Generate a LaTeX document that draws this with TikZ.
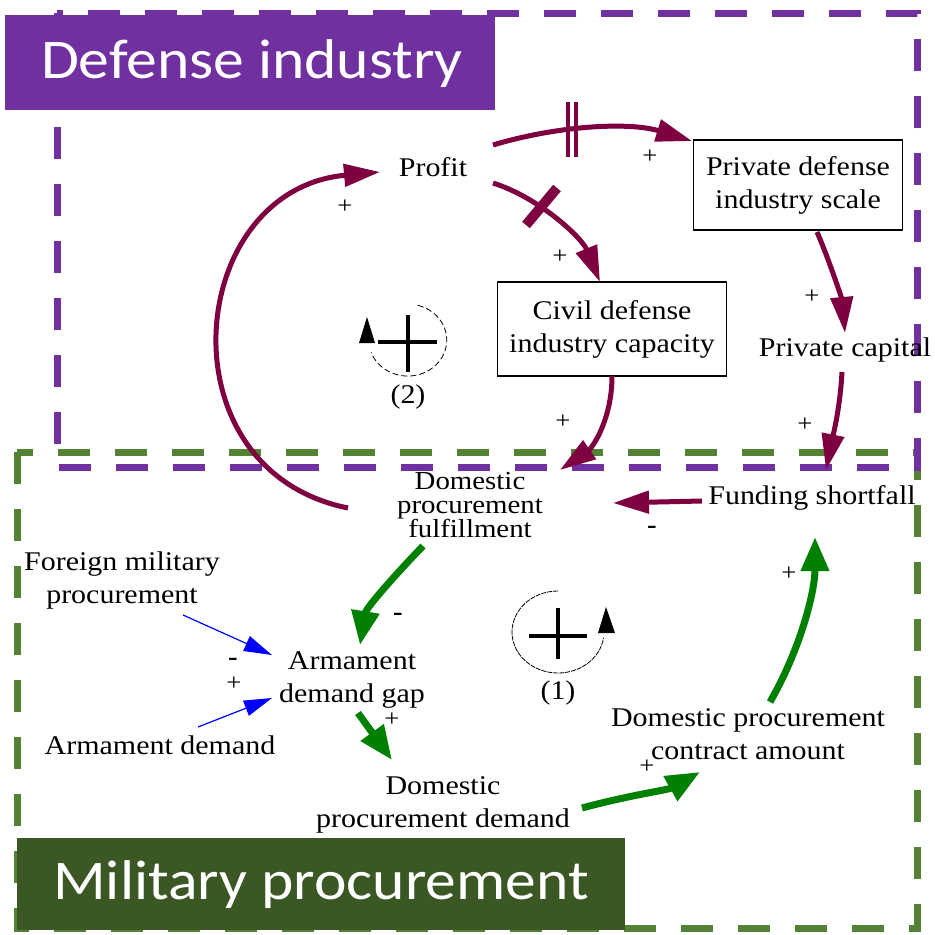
\documentclass[tikz,border=0pt]{standalone}
\usepackage{fontspec}
\setmainfont{Liberation Serif}
\newfontfamily\serfont{Liberation Serif}[FakeStretch=1.11]
\newfontfamily\calfontw{Carlito}[FakeStretch=1.1]
\usetikzlibrary{arrows.meta,calc}
\definecolor{dpurple}{HTML}{7030A0}
\definecolor{dgreen}{HTML}{548235}
\definecolor{tgreen}{HTML}{3A5724}
\definecolor{maroonc}{HTML}{7F0040}
\definecolor{agreen}{HTML}{008000}
\begin{document}
\begin{tikzpicture}[x=1pt,y=-1pt,
  var/.style={font=\serfont\fontsize{27}{33}\selectfont, align=center, inner sep=0pt},
  boxvar/.style={var, draw=black, line width=1.1pt},
  sign/.style={font=\serfont\fontsize{24}{24}\selectfont, inner sep=0pt},
  minus/.style={font=\serfont\bfseries\fontsize{26}{26}\selectfont, inner sep=0pt},
  mar/.style={draw=maroonc, line width=5pt, -{Triangle[length=36pt,width=22pt]}},
  grn/.style={draw=agreen, line width=7pt, -{Triangle[length=34pt,width=27pt]}},
  blu/.style={draw=blue, line width=1.2pt, -{Triangle[length=28pt,width=16pt]}},
  regionbox/.style={line width=7pt, dash pattern=on 32pt off 25pt},
  looparc/.style={draw=black, line width=0.8pt},
  crossline/.style={draw=black, line width=3.5pt},
  titlebox/.style={font=\calfontw\fontsize{56}{56}\selectfont, text=white, inner sep=0pt}
]
\useasboundingbox (0,0) rectangle (935,935);
\fill[white] (0,0) rectangle (935,935);
% region boxes
\draw[regionbox, draw=dgreen] (17,452) rectangle (917,928);
\draw[regionbox, draw=dpurple] (57,13) rectangle (917,467);
% titles
\fill[dpurple] (5,15) rectangle (495,110);
\node[titlebox] (tdef) at (252,64) {Defense industry};
\fill[tgreen] (17,838) rectangle (625,930);
\node[titlebox] (tmil) at (321,885) {Military procurement};

% variables
\node[var] (profit) at (433,167) {Profit};
\node[boxvar, minimum width=209, minimum height=90] (pdis) at (798,185) {Private defense\\industry scale};
\node[boxvar, minimum width=229, minimum height=94] (cdic) at (612,329) {Civil defense\\industry capacity};
\node[var] (pcap) at (845,350) {Private capital};
\node[var, font=\serfont\fontsize{26}{24}\selectfont] (dpf) at (470,505) {Domestic\\procurement\\fulfillment};
\node[var] (fund) at (812,498) {Funding shortfall};
\node[var] (fmp) at (122,580) {Foreign military\\procurement};
\node[var] (adg) at (352,680) {Armament\\demand gap};
\node[var] (arm) at (160,745) {Armament demand};
\node[var] (dpd) at (443,805) {Domestic\\procurement demand};
\node[var] (dpca) at (748,734) {Domestic procurement\\contract amount};

% maroon connectors
\draw[mar] ($(profit)+(60,-22)$) .. controls (560,125) and (630,122) .. ($(pdis)+(-106,-44)$);
\draw[mar] ($(profit)+(60,16)$) .. controls (540,198) and (582,238) .. ($(cdic)+(-12,-47)$);
\draw[mar] ($(pdis)+(19,47)$) .. controls (830,262) and (842,300) .. ($(pcap)+(0,-17)$);
\draw[mar] ($(pcap)+(-3,22)$) .. controls (840,410) and (832,440) .. ($(fund)+(14,-28)$);
\draw[mar] ($(cdic)+(0,47)$) .. controls (612,420) and (592,448) .. ($(dpf)+(90,-35)$);
\draw[mar] ($(fund)+(-110,3)$) -- ($(dpf)+(143,-2)$);
\draw[mar] ($(dpf)+(-122,3)$) .. controls (160,470) and (185,190) .. ($(profit)+(-53,5)$);
% delay marks
\draw[maroonc, line width=4pt] (568,102) -- (568,157);
\draw[maroonc, line width=4pt] (576,102) -- (576,157);
\draw[maroonc, line width=10pt] (526,225) -- (557,188);

% green connectors
\draw[grn] ($(dpf)+(-47,41)$) .. controls (395,575) and (366,608) .. ($(adg)+(8,-35)$);
\draw[grn] ($(adg)+(6,33)$) -- ($(dpd)+(-51,-45)$);
\draw[grn] ($(dpd)+(139,3)$) .. controls (630,795) and (668,790) .. ($(dpca)+(-48,38)$);
\draw[grn] ($(dpca)+(22,-32)$) .. controls (800,650) and (815,592) .. ($(fund)+(3,39)$);

% blue connectors
\draw[blu] ($(fmp)+(61,35)$) -- ($(adg)+(-80,-25)$);
\draw[blu] ($(arm)+(38,-18)$) -- ($(adg)+(-80,18)$);

% signs
\node[sign] (s1) at (650,157) {+};
\node[sign] (s2) at (560,257) {+};
\node[sign] (s3) at (812,297) {+};
\node[sign] (s4) at (805,425) {+};
\node[sign] (s5) at (563,422) {+};
\node[sign] (s6) at (345,207) {+};
\node[sign] (s7) at (789,574) {+};
\node[sign] (s8) at (647,767) {+};
\node[sign] (s9) at (392,720) {+};
\node[sign] (s10) at (234,684) {+};
\node[minus] (m1) at (652,530) {-};
\node[minus] (m2) at (398,617) {-};
\node[minus] (m3) at (233,662) {-};

% loop (2)
\begin{scope}[shift={(408,342)}, y=1pt]
  \draw[looparc, dash pattern=on 6pt off 3pt] (75:38) arc[start angle=75, end angle=-160, x radius=39, y radius=36];
  \fill[black] (-41,25) -- (-49,-1) -- (-33,-1) -- cycle;
  \draw[crossline] (-30,0) -- (29,0);
  \draw[crossline] (0,27) -- (0,-30);
\end{scope}
\node[var] (l2) at (408,397) {(2)};
% loop (1)
\begin{scope}[shift={(558,632)}, y=1pt]
  \draw[looparc, dash pattern=on 5pt off 1pt] (0,41) arc[start angle=90, end angle=352, x radius=46, y radius=41];
  \fill[black] (48,25) -- (40,-1) -- (57,-1) -- cycle;
  \draw[crossline] (-29,-4) -- (29,-4);
  \draw[crossline] (0,24) -- (0,-27);
\end{scope}
\node[var] (l1) at (558,693) {(1)};
\end{tikzpicture}
\end{document}
